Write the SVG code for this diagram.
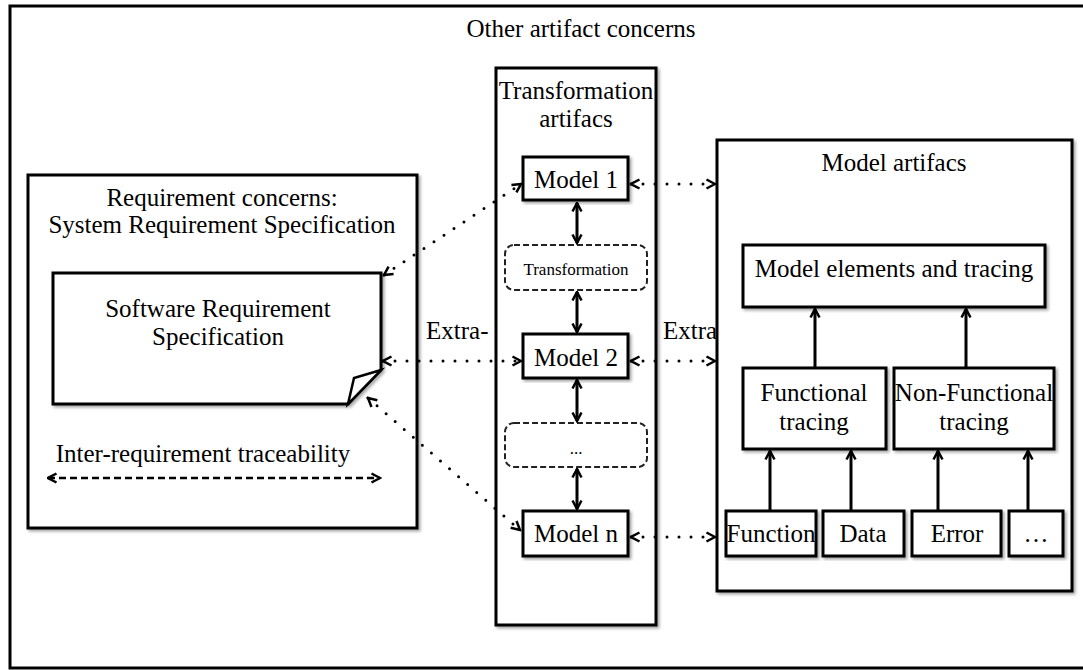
<svg xmlns="http://www.w3.org/2000/svg" width="1083" height="670" viewBox="0 0 1083 670">
  <defs>
    <style>
      .box { fill: #ffffff; stroke: #000000; stroke-width: 3; }
      .frame { fill: #ffffff; stroke: #000000; stroke-width: 3; }
      .dash { fill: #ffffff; stroke: #222222; stroke-width: 2; stroke-dasharray: 6 3; }
      .t { font-family: "Liberation Serif", "Times New Roman", serif; font-size: 25px; fill: #000000; text-anchor: middle; }
      .ts { font-family: "Liberation Serif", "Times New Roman", serif; font-size: 17px; fill: #000000; text-anchor: middle; }
      .start { text-anchor: start; }
      .solid { fill: none; stroke: #000000; stroke-width: 3; }
      .dotted { fill: none; stroke: #000000; stroke-width: 3; stroke-linecap: round; stroke-dasharray: 0 12; }
      .dashed { fill: none; stroke: #000000; stroke-width: 2.5; stroke-dasharray: 7 4; }
    </style>
    <filter id="shadow" x="-10%" y="-10%" width="120%" height="120%">
      <feDropShadow dx="2" dy="2" stdDeviation="1.5" flood-color="#000000" flood-opacity="0.35"/>
    </filter>
    <marker id="head" viewBox="0 0 12 12" refX="10.5" refY="6" markerWidth="12" markerHeight="12" markerUnits="userSpaceOnUse" orient="auto-start-reverse">
      <path d="M2,1.5 L10.5,6 L2,10.5" fill="none" stroke="#000000" stroke-width="2.5" stroke-linejoin="miter"/>
    </marker>
  </defs>

  <!-- outer frame -->
  <g id="other-artifact-concerns">
    <rect class="frame" x="10" y="6" width="1090" height="662"/>
    <text class="t" x="581" y="37">Other artifact concerns</text>
  </g>

  <!-- requirement concerns -->
  <g id="requirement-concerns" filter="url(#shadow)">
    <rect class="box" x="28" y="175" width="389" height="353"/>
  </g>
  <g id="requirement-concerns-label">
    <text class="t" x="222" y="206">Requirement concerns:</text>
    <text class="t" x="222" y="233">System Requirement Specification</text>
    <text class="t" x="203" y="462">Inter-requirement traceability</text>
  </g>

  <g id="software-requirement-specification">
    <path class="box" filter="url(#shadow)" d="M53,273 H381 V370 L348,404 H53 Z"/>
    <path d="M381,370 L354,378 L348,404 Z" fill="#ffffff" stroke="#000000" stroke-width="2.5" stroke-linejoin="miter"/>
    <text class="t" x="218" y="317">Software Requirement</text>
    <text class="t" x="218" y="345">Specification</text>
  </g>

  <!-- transformation artifacts column -->
  <g id="transformation-artifacts" filter="url(#shadow)">
    <rect class="box" x="496" y="68" width="160" height="557"/>
  </g>
  <g id="transformation-artifacts-label">
    <text class="t" x="576" y="99">Transformation</text>
    <text class="t" x="576" y="127">artifacs</text>
  </g>

  <g id="model-1">
    <rect class="box" filter="url(#shadow)" x="523" y="157" width="105" height="43"/>
    <text class="t" x="576" y="188">Model 1</text>
  </g>
  <g id="transformation">
    <rect class="dash" x="505" y="245" width="142" height="45" rx="9" ry="9"/>
    <text class="ts" x="576" y="275">Transformation</text>
  </g>
  <g id="model-2">
    <rect class="box" filter="url(#shadow)" x="523" y="334" width="105" height="44"/>
    <text class="t" x="576" y="366">Model 2</text>
  </g>
  <g id="ellipsis-step">
    <rect class="dash" x="505" y="423" width="142" height="44" rx="9" ry="9"/>
    <text class="ts" x="576" y="454">...</text>
  </g>
  <g id="model-n">
    <rect class="box" filter="url(#shadow)" x="523" y="511" width="105" height="45"/>
    <text class="t" x="576" y="542">Model n</text>
  </g>

  <!-- model artifacts -->
  <g id="model-artifacts" filter="url(#shadow)">
    <rect class="box" x="717" y="140" width="355" height="451"/>
  </g>
  <g id="model-artifacts-label">
    <text class="t" x="894" y="171">Model artifacs</text>
  </g>
  <g id="model-elements-and-tracing">
    <rect class="box" filter="url(#shadow)" x="743" y="245" width="302" height="62"/>
    <text class="t" x="894" y="277">Model elements and tracing</text>
  </g>
  <g id="functional-tracing">
    <rect class="box" filter="url(#shadow)" x="743" y="368" width="143" height="81"/>
    <text class="t" x="814" y="401">Functional</text>
    <text class="t" x="814" y="430">tracing</text>
  </g>
  <g id="non-functional-tracing">
    <rect class="box" filter="url(#shadow)" x="894" y="368" width="160" height="81"/>
    <text class="t" x="974" y="401">Non-Functional</text>
    <text class="t" x="974" y="430">tracing</text>
  </g>
  <g id="function">
    <rect class="box" filter="url(#shadow)" x="726" y="511" width="90" height="45"/>
    <text class="t" x="771" y="542">Function</text>
  </g>
  <g id="data">
    <rect class="box" filter="url(#shadow)" x="823" y="511" width="81" height="45"/>
    <text class="t" x="863" y="542">Data</text>
  </g>
  <g id="error">
    <rect class="box" filter="url(#shadow)" x="912" y="511" width="89" height="45"/>
    <text class="t" x="957" y="542">Error</text>
  </g>
  <g id="more">
    <rect class="box" filter="url(#shadow)" x="1009" y="511" width="54" height="45"/>
    <text class="t" x="1036" y="542">…</text>
  </g>

  <!-- connectors -->
  <g id="connectors">
    <!-- traceability inside the requirement box -->
    <line class="dashed" x1="48" y1="478" x2="380" y2="478" marker-start="url(#head)" marker-end="url(#head)"/>

    <!-- extra-model links to the specification -->
    <line class="dotted" x1="384" y1="275" x2="521" y2="184" marker-start="url(#head)" marker-end="url(#head)"/>
    <line class="dotted" x1="383" y1="361" x2="521" y2="361" marker-start="url(#head)" marker-end="url(#head)"/>
    <line class="dotted" x1="368" y1="398" x2="520" y2="530" marker-start="url(#head)" marker-end="url(#head)"/>

    <!-- extra links to model artifacts -->
    <line class="dotted" x1="631" y1="184" x2="715" y2="184" marker-start="url(#head)" marker-end="url(#head)"/>
    <line class="dotted" x1="631" y1="361" x2="715" y2="361" marker-start="url(#head)" marker-end="url(#head)"/>
    <line class="dotted" x1="631" y1="537" x2="715" y2="537" marker-start="url(#head)" marker-end="url(#head)"/>

    <!-- transformation chain -->
    <line class="solid" x1="577" y1="203" x2="577" y2="243" marker-start="url(#head)" marker-end="url(#head)"/>
    <line class="solid" x1="577" y1="292" x2="577" y2="332" marker-start="url(#head)" marker-end="url(#head)"/>
    <line class="solid" x1="577" y1="380" x2="577" y2="421" marker-start="url(#head)" marker-end="url(#head)"/>
    <line class="solid" x1="577" y1="469" x2="577" y2="509" marker-start="url(#head)" marker-end="url(#head)"/>

    <!-- tracing hierarchy -->
    <line class="solid" x1="815" y1="368" x2="815" y2="309" marker-end="url(#head)"/>
    <line class="solid" x1="966" y1="368" x2="966" y2="309" marker-end="url(#head)"/>
    <line class="solid" x1="770" y1="511" x2="770" y2="451" marker-end="url(#head)"/>
    <line class="solid" x1="851" y1="511" x2="851" y2="451" marker-end="url(#head)"/>
    <line class="solid" x1="938" y1="511" x2="938" y2="451" marker-end="url(#head)"/>
    <line class="solid" x1="1028" y1="511" x2="1028" y2="451" marker-end="url(#head)"/>
  </g>

  <!-- link labels -->
  <g id="labels">
    <text class="t start" x="426" y="339">Extra-</text>
    <text class="t start" x="663" y="339">Extra</text>
  </g>
</svg>
